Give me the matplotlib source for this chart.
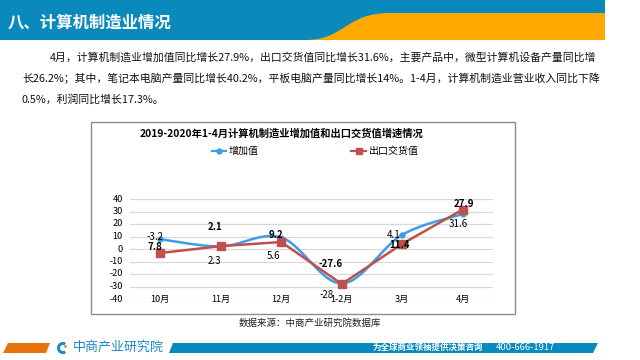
import numpy as np
import matplotlib
matplotlib.use("Agg")
import matplotlib.pyplot as plt
from matplotlib.patches import Polygon, Rectangle, PathPatch, Arc, Circle
from matplotlib.path import Path

plt.rcParams['font.family'] = ['Noto Sans CJK SC', 'DejaVu Sans']

# ---------------- data ----------------
categories = ["10月", "11月", "12月", "1-2月", "3月", "4月"]
added_value = [7.8, 2.1, 9.2, -27.6, 11.4, 27.9]        # 增加值
export_value = [-3.2, 2.3, 5.6, -28.0, 4.1, 31.6]       # 出口交货值
y_ticks = [40, 30, 20, 10, 0, -10, -20, -30, -40]
series_names = ["增加值", "出口交货值"]

page_title = "八、计算机制造业情况"
para_lines = [
    "4月，计算机制造业增加值同比增长27.9%，出口交货值同比增长31.6%，主要产品中，微型计算机设备产量同比增",
    "长26.2%；其中，笔记本电脑产量同比增长40.2%，平板电脑产量同比增长14%。1-4月，计算机制造业营业收入同比下降",
    "0.5%，利润同比增长17.3%。",
]
chart_title = "2019-2020年1-4月计算机制造业增加值和出口交货值增速情况"
source_text = "数据来源：中商产业研究院数据库"
footer_slogan = "为全球商业领袖提供决策咨询"
footer_phone = "400-666-1917"
logo_text = "中商产业研究院"

# label placement (layout only): offsets in (category units, value units)
blue_lbl_off = [(-0.08, -6.2), (-0.1, 15.5), (-0.08, 1.8), (-0.18, 15.6), (-0.05, -8.4), (0.02, 8.1)]
red_lbl_off = [(-0.08, 12.5), (-0.1, -11.6), (-0.12, -10.9), (-0.25, -8.5), (-0.15, 7.4), (-0.07, -11.6)]
blue_bold = [True, True, True, True, True, True]
red_bold = [False, False, False, False, False, False]

BLUE = "#0A89BC"
ORANGE = "#FFA800"
LINE_BLUE = "#3C9EEA"
LINE_RED = "#C0504D"

fig = plt.figure(figsize=(6.4, 3.6), dpi=100)
bg = fig.add_axes([0, 0, 1, 1])
bg.set_xlim(0, 640)
bg.set_ylim(360, 0)
bg.axis("off")

# header
bg.add_patch(Rectangle((0, 0), 605, 40, color=BLUE, lw=0))
verts = [(305, 40), (345, 40), (345, 13), (390, 13), (605, 13), (605, 40), (305, 40)]
codes = [Path.MOVETO, Path.CURVE4, Path.CURVE4, Path.CURVE4, Path.LINETO, Path.LINETO, Path.CLOSEPOLY]
bg.add_patch(PathPatch(Path(verts, codes), color=ORANGE, lw=0))
bg.text(8, 23, page_title, color="white", fontsize=11.8, fontweight="bold", va="center", ha="left")

# paragraph
bg.text(50, 57, para_lines[0], fontsize=7.8, va="center", ha="left", color="#111111")
bg.text(22, 78, para_lines[1], fontsize=7.8, va="center", ha="left", color="#111111")
bg.text(22, 99, para_lines[2], fontsize=7.8, va="center", ha="left", color="#111111")

# chart frame
bg.add_patch(Rectangle((91, 122), 424, 192, fill=False, ec="#8C8C8C", lw=1.0))
bg.text(140, 134, chart_title, fontsize=7.4, fontweight="bold", va="center", ha="left", color="black")
bg.text(310, 323, source_text, fontsize=6.8, va="center", ha="center", color="#222222")

# legend
bg.plot([212, 226], [151, 151], color=LINE_BLUE, lw=1.6)
bg.plot([219], [151], marker="o", ms=3.5, color=LINE_BLUE)
bg.text(229, 151, series_names[0], fontsize=7.2, va="center", ha="left")
bg.plot([351, 366], [151, 151], color=LINE_RED, lw=1.6)
bg.plot([358.5], [151], marker="s", ms=5, color=LINE_RED)
bg.text(369, 151, series_names[1], fontsize=7.2, va="center", ha="left")

# footer
bg.add_patch(Polygon([(3, 353), (8, 343), (50, 343), (46, 353)], closed=True, color="#E8730C", lw=0))
bg.add_patch(Polygon([(169, 353), (173, 343), (598, 343), (593, 353)], closed=True, color=BLUE, lw=0))
bg.add_patch(Arc((63, 348), 9, 9, theta1=60, theta2=300, color="#1A8AC6", lw=2.2))
bg.add_patch(Circle((65.5, 346.5), 1.3, color="#E8730C", lw=0))
bg.text(73, 347.5, logo_text, fontsize=9.4, color="#1A8AC6", va="center", ha="left")
bg.text(373, 347.5, footer_slogan, fontsize=6.1, color="white", va="center", ha="left", fontweight="bold")
bg.text(496, 347.5, footer_phone, fontsize=6.8, color="white", va="center", ha="left")

# ---------------- chart ----------------
ax = fig.add_axes([130 / 640, 1 - 299 / 360, 363 / 640, 100 / 360])
ax.set_facecolor("none")
x = np.arange(len(categories))
ax.set_xlim(-0.5, len(categories) - 0.5)
ax.set_ylim(-40, 40)
for t in y_ticks:
    ax.axhline(t, color="#D9D9D9", lw=0.9, zorder=0)
    ax.text(-0.62, t, str(t), fontsize=6.6, ha="right", va="center", clip_on=False)
for xi, c in zip(x, categories):
    ax.text(xi, -40, c, fontsize=6.6, ha="center", va="center")
for s in ax.spines.values():
    s.set_visible(False)
ax.set_xticks([])
ax.set_yticks([])


def smooth(xs, ys, n=30):
    P = np.column_stack([xs, ys]).astype(float)
    out = []
    m = len(P)
    for i in range(m - 1):
        p0 = P[max(i - 1, 0)]
        p1 = P[i]
        p2 = P[i + 1]
        p3 = P[min(i + 2, m - 1)]
        c1 = p1 + (p2 - p0) / 6.0
        c2 = p2 - (p3 - p1) / 6.0
        t = np.linspace(0, 1, n)[:, None]
        seg = ((1 - t) ** 3) * p1 + 3 * ((1 - t) ** 2) * t * c1 + 3 * (1 - t) * t ** 2 * c2 + t ** 3 * p2
        out.append(seg if i == 0 else seg[1:])
    out = np.vstack(out)
    return out[:, 0], out[:, 1]


sx, sy = smooth(x, added_value)
ax.plot(sx, sy, color=LINE_BLUE, lw=1.8, zorder=3)
ax.plot(x, added_value, ls="none", marker="o", ms=3.5, color=LINE_BLUE, zorder=4)
ax.plot(x, export_value, color=LINE_RED, lw=1.8, zorder=3)
ax.plot(x, export_value, ls="none", marker="s", ms=5.5, color=LINE_RED, zorder=4)

for i in range(len(categories)):
    dx, dy = blue_lbl_off[i]
    ax.text(x[i] + dx, added_value[i] + dy, f"{added_value[i]:g}", fontsize=7, ha="center", va="center",
            fontweight="bold" if blue_bold[i] else "normal", zorder=5)
    dx, dy = red_lbl_off[i]
    ax.text(x[i] + dx, export_value[i] + dy, f"{export_value[i]:g}", fontsize=7, ha="center", va="center",
            fontweight="bold" if red_bold[i] else "normal", zorder=5)

fig.savefig("out.png", dpi=100)
